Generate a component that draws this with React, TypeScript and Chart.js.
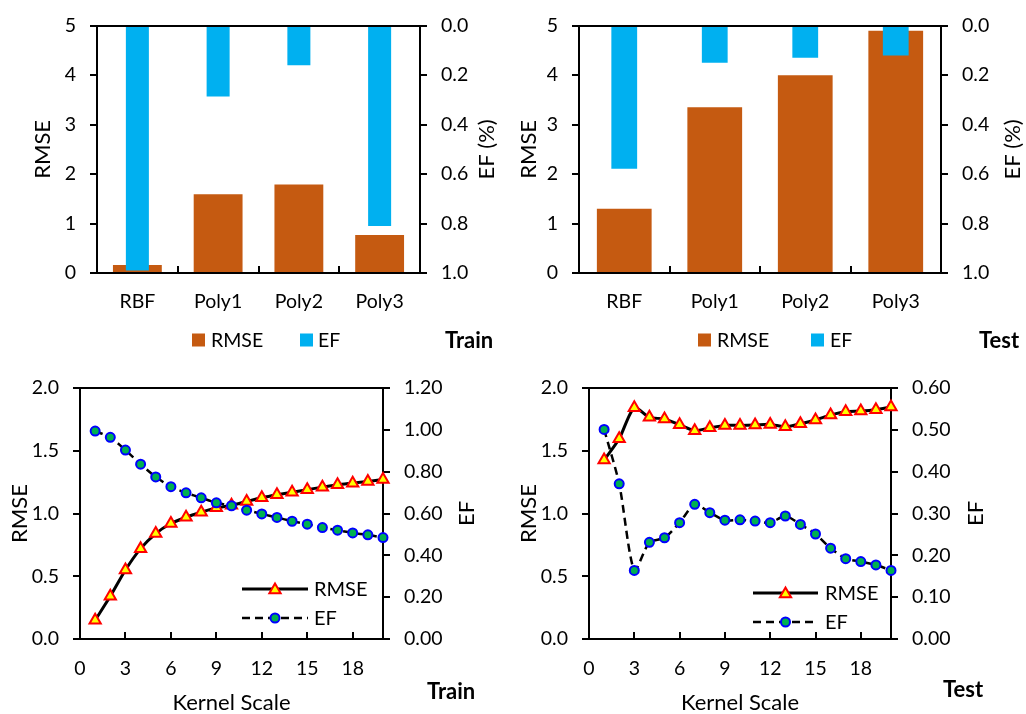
import React, { useEffect, useRef } from 'react';
import { Chart, registerables } from 'chart.js';

Chart.register(...registerables);

// ---------------- data ----------------
const models = ['RBF', 'Poly1', 'Poly2', 'Poly3'];
const trainBarRmse = [0.16, 1.59, 1.79, 0.77];
const trainBarEf = [0.99, 0.286, 0.16, 0.81];
const testBarRmse = [1.3, 3.35, 4.0, 4.9];
const testBarEf = [0.578, 0.15, 0.13, 0.12];

const kernelScale = [1, 2, 3, 4, 5, 6, 7, 8, 9, 10, 11, 12, 13, 14, 15, 16, 17, 18, 19, 20];
const kernelTicks = [0, 3, 6, 9, 12, 15, 18];
const trainRmse = [0.15, 0.34, 0.55, 0.72, 0.84, 0.92, 0.97, 1.01, 1.045, 1.066, 1.096, 1.125, 1.149, 1.17, 1.19, 1.21, 1.229, 1.242, 1.255, 1.271];
const trainEf = [0.994, 0.964, 0.903, 0.836, 0.775, 0.728, 0.699, 0.675, 0.651, 0.637, 0.616, 0.598, 0.581, 0.563, 0.549, 0.533, 0.52, 0.507, 0.498, 0.485];
const testRmse = [1.426, 1.596, 1.843, 1.766, 1.753, 1.707, 1.66, 1.683, 1.702, 1.702, 1.705, 1.71, 1.691, 1.715, 1.745, 1.785, 1.811, 1.816, 1.827, 1.848];
const testEf = [0.501, 0.371, 0.164, 0.231, 0.242, 0.278, 0.322, 0.302, 0.284, 0.285, 0.282, 0.278, 0.294, 0.274, 0.251, 0.217, 0.192, 0.185, 0.177, 0.164];

// ---------------- styles ----------------
const FONT = 'Lato, "Open Sans", sans-serif';
const BROWN = '#C55A11';
const BLUE = '#00B0F0';
const TICK_SIZE = 19.5;
const TITLE_SIZE = 22;

function drawTriangle(ctx: CanvasRenderingContext2D, x: number, y: number, r: number) {
  ctx.beginPath();
  let a = 0;
  ctx.moveTo(x + Math.sin(a) * r, y - Math.cos(a) * r);
  a += (2 * Math.PI) / 3;
  ctx.lineTo(x + Math.sin(a) * r, y - Math.cos(a) * r);
  a += (2 * Math.PI) / 3;
  ctx.lineTo(x + Math.sin(a) * r, y - Math.cos(a) * r);
  ctx.closePath();
  ctx.fillStyle = '#FFFF00';
  ctx.fill();
  ctx.strokeStyle = '#FF0000';
  ctx.lineWidth = 2;
  ctx.stroke();
}

function drawCircle(ctx: CanvasRenderingContext2D, x: number, y: number, r: number) {
  ctx.beginPath();
  ctx.arc(x, y, r, 0, Math.PI * 2);
  ctx.fillStyle = '#00B050';
  ctx.fill();
  ctx.strokeStyle = '#0000FF';
  ctx.lineWidth = 2;
  ctx.stroke();
}

type BoxItem = { x: number; tx: number; label: string; color: string };
type LineRow = { y: number; label: string; dash: number[]; marker: 'tri' | 'circ' };
type Decor = {
  frameOnTop: boolean;
  rtText: string;
  rtX: number;
  boxLegend?: { y: number; items: BoxItem[] };
  lineLegend?: { x1: number; x2: number; tx: number; rows: LineRow[] };
  tag: string;
  tagX: number;
  tagY: number;
};

function decorPlugin(d: Decor) {
  const frame = (chart: any) => {
    const ctx = chart.ctx as CanvasRenderingContext2D;
    const a = chart.chartArea;
    ctx.save();
    ctx.strokeStyle = '#000';
    ctx.lineWidth = 2;
    ctx.strokeRect(Math.round(a.left), Math.round(a.top), Math.round(a.right) - Math.round(a.left), Math.round(a.bottom) - Math.round(a.top));
    ctx.restore();
  };
  return {
    id: 'decor',
    beforeDatasetsDraw(chart: any) {
      if (!d.frameOnTop) frame(chart);
    },
    afterDatasetsDraw(chart: any) {
      if (d.frameOnTop) frame(chart);
    },
    afterDraw(chart: any) {
      const ctx = chart.ctx as CanvasRenderingContext2D;
      const a = chart.chartArea;
      // right axis title, reading bottom-to-top
      ctx.save();
      ctx.translate(d.rtX, (a.top + a.bottom) / 2);
      ctx.rotate(-Math.PI / 2);
      ctx.font = `${TITLE_SIZE}px ${FONT}`;
      ctx.fillStyle = '#000';
      ctx.textAlign = 'center';
      ctx.textBaseline = 'middle';
      ctx.fillText(d.rtText, 0, 0);
      ctx.restore();

      ctx.save();
      ctx.font = `${TICK_SIZE}px ${FONT}`;
      ctx.textBaseline = 'middle';
      ctx.textAlign = 'left';
      if (d.boxLegend) {
        const L = d.boxLegend;
        L.items.forEach((it) => {
          ctx.fillStyle = it.color;
          ctx.fillRect(it.x, L.y - 6.5, 13, 13);
          ctx.fillStyle = '#000';
          ctx.fillText(it.label, it.tx, L.y + 1);
        });
      }
      if (d.lineLegend) {
        const L = d.lineLegend;
        L.rows.forEach((r) => {
          ctx.save();
          ctx.strokeStyle = '#000';
          ctx.lineWidth = r.marker === 'tri' ? 3 : 2.5;
          ctx.setLineDash(r.dash);
          ctx.beginPath();
          ctx.moveTo(L.x1, r.y);
          ctx.lineTo(L.x2, r.y);
          ctx.stroke();
          ctx.restore();
          const cx = (L.x1 + L.x2) / 2;
          if (r.marker === 'tri') drawTriangle(ctx, cx, r.y + 1, 6.5);
          else drawCircle(ctx, cx, r.y, 4.5);
          ctx.fillStyle = '#000';
          ctx.font = `${TICK_SIZE + 0.5}px ${FONT}`;
          ctx.fillText(r.label, L.tx, r.y + 1);
        });
      }
      ctx.font = `bold ${TITLE_SIZE}px ${FONT}`;
      ctx.fillStyle = '#000';
      ctx.fillText(d.tag, d.tagX, d.tagY);
      ctx.restore();
    },
  };
}

type Layout = { top: number; yLW: number; yRW: number; xH: number; ltPad: number };

const tickFont = { family: FONT, size: TICK_SIZE };
const titleFont = { family: FONT, size: TITLE_SIZE };

function barConfig(rmse: number[], ef: number[], p: Layout, d: Decor): any {
  return {
    type: 'bar',
    data: {
      labels: models,
      datasets: [
        { label: 'RMSE', data: rmse, yAxisID: 'y', backgroundColor: BROWN, grouped: false, categoryPercentage: 1, barPercentage: 0.605, order: 1 },
        { label: 'EF', data: ef, yAxisID: 'y1', backgroundColor: BLUE, grouped: false, categoryPercentage: 1, barPercentage: 0.285, order: 0 },
      ],
    },
    options: {
      responsive: false,
      animation: false,
      events: [],
      layout: { padding: { top: p.top, left: 0, right: 0, bottom: 0 } },
      plugins: { legend: { display: false }, tooltip: { enabled: false } },
      scales: {
        x: {
          type: 'category',
          offset: true,
          grid: { offset: true, drawOnChartArea: false, drawTicks: true, tickLength: -7, color: '#000', lineWidth: 2 },
          border: { display: true, color: '#000', width: 2 },
          ticks: { padding: 24.3, color: '#000', font: tickFont, maxRotation: 0 },
          afterFit: (s: any) => { s.height = p.xH; },
        },
        y: {
          position: 'left',
          min: 0,
          max: 5,
          ticks: { stepSize: 1, padding: 14, color: '#000', font: tickFont },
          grid: { drawOnChartArea: false, tickLength: 7, color: '#000', lineWidth: 2 },
          border: { display: true, color: '#000', width: 2 },
          title: { display: true, text: 'RMSE', color: '#000', font: titleFont, padding: { top: p.ltPad, bottom: 0 } },
          afterFit: (s: any) => { s.width = p.yLW; },
        },
        y1: {
          position: 'right',
          min: 0,
          max: 1,
          reverse: true,
          ticks: { stepSize: 0.2, padding: 14, color: '#000', font: tickFont, callback: (v: any) => Number(v).toFixed(1) },
          grid: { drawOnChartArea: false, tickLength: 7, color: '#000', lineWidth: 2 },
          border: { display: true, color: '#000', width: 2 },
          afterFit: (s: any) => { s.width = p.yRW; },
        },
      },
    },
    plugins: [decorPlugin(d)],
  };
}

function lineConfig(rmse: number[], ef: number[], efMax: number, p: Layout, d: Decor): any {
  return {
    type: 'line',
    data: {
      datasets: [
        {
          label: 'RMSE',
          data: kernelScale.map((k, i) => ({ x: k, y: rmse[i] })),
          yAxisID: 'y',
          borderColor: '#000',
          borderWidth: 3,
          tension: 0.25,
          pointStyle: 'triangle',
          pointRadius: 6.5,
          pointBackgroundColor: '#FFFF00',
          pointBorderColor: '#FF0000',
          pointBorderWidth: 2,
          clip: false,
          order: 1,
        },
        {
          label: 'EF',
          data: kernelScale.map((k, i) => ({ x: k, y: ef[i] })),
          yAxisID: 'y1',
          borderColor: '#000',
          borderWidth: 2.5,
          borderDash: [8, 5],
          tension: 0.25,
          pointStyle: 'circle',
          pointRadius: 4.5,
          pointBackgroundColor: '#00B050',
          pointBorderColor: '#0000FF',
          pointBorderWidth: 2,
          clip: false,
          order: 0,
        },
      ],
    },
    options: {
      responsive: false,
      animation: false,
      events: [],
      layout: { padding: { top: p.top, left: 0, right: 0, bottom: 0 } },
      plugins: { legend: { display: false }, tooltip: { enabled: false } },
      scales: {
        x: {
          type: 'linear',
          min: 0,
          max: 20,
          afterBuildTicks: (s: any) => { s.ticks = kernelTicks.map((v) => ({ value: v })); },
          grid: { drawOnChartArea: false, drawTicks: true, tickLength: -7, color: '#000', lineWidth: 2 },
          border: { display: true, color: '#000', width: 2 },
          ticks: { padding: 24.6, color: '#000', font: tickFont, maxRotation: 0 },
          title: { display: true, text: 'Kernel Scale', color: '#000', font: { family: FONT, size: TITLE_SIZE, lineHeight: 1.0 }, padding: { top: 0, bottom: 0 } },
          afterFit: (s: any) => { s.height = p.xH; },
        },
        y: {
          position: 'left',
          min: 0,
          max: 2,
          ticks: { stepSize: 0.5, padding: 14, color: '#000', font: tickFont, callback: (v: any) => Number(v).toFixed(1) },
          grid: { drawOnChartArea: false, tickLength: 7, color: '#000', lineWidth: 2 },
          border: { display: true, color: '#000', width: 2 },
          title: { display: true, text: 'RMSE', color: '#000', font: titleFont, padding: { top: p.ltPad, bottom: 0 } },
          afterFit: (s: any) => { s.width = p.yLW; },
        },
        y1: {
          position: 'right',
          min: 0,
          max: efMax,
          ticks: { stepSize: efMax / 6, padding: 14, color: '#000', font: tickFont, callback: (v: any) => Number(v).toFixed(2) },
          grid: { drawOnChartArea: false, tickLength: 7, color: '#000', lineWidth: 2 },
          border: { display: true, color: '#000', width: 2 },
          afterFit: (s: any) => { s.width = p.yRW; },
        },
      },
    },
    plugins: [decorPlugin(d)],
  };
}

function ChartBox({ make, left, top, width, height }: { make: () => any; left: number; top: number; width: number; height: number }) {
  const ref = useRef<HTMLCanvasElement>(null);
  useEffect(() => {
    const chart = new Chart(ref.current as HTMLCanvasElement, make());
    return () => chart.destroy();
  }, []);
  return (
    <canvas
      ref={ref}
      width={width}
      height={height}
      style={{ position: 'absolute', left, top, width, height, display: 'block' }}
    />
  );
}

export default function App() {
  const makeTrainBar = () =>
    barConfig(trainBarRmse, trainBarEf, { top: 25, yLW: 97, yRW: 93, xH: 87, ltPad: 29.8 }, {
      frameOnTop: true,
      rtText: 'EF (%)',
      rtX: 487,
      boxLegend: {
        y: 340,
        items: [
          { x: 192, tx: 211, label: 'RMSE', color: BROWN },
          { x: 300, tx: 318, label: 'EF', color: BLUE },
        ],
      },
      tag: 'Train',
      tagX: 445,
      tagY: 341,
    });
  const makeTestBar = () =>
    barConfig(testBarRmse, testBarEf, { top: 25, yLW: 66, yRW: 85, xH: 87, ltPad: 2.8 }, {
      frameOnTop: true,
      rtText: 'EF (%)',
      rtX: 500,
      boxLegend: {
        y: 340,
        items: [
          { x: 185, tx: 204, label: 'RMSE', color: BROWN },
          { x: 298, tx: 317, label: 'EF', color: BLUE },
        ],
      },
      tag: 'Test',
      tagX: 466,
      tagY: 341,
    });
  const makeTrainLine = () =>
    lineConfig(trainRmse, trainEf, 1.2, { top: 28, yLW: 80, yRW: 130, xH: 75, ltPad: 6.8 }, {
      frameOnTop: false,
      rtText: 'EF',
      rtX: 467,
      lineLegend: {
        x1: 242,
        x2: 308,
        tx: 314,
        rows: [
          { y: 229, label: 'RMSE', dash: [], marker: 'tri' },
          { y: 258, label: 'EF', dash: [8, 5], marker: 'circ' },
        ],
      },
      tag: 'Train',
      tagX: 427,
      tagY: 332,
    });
  const makeTestLine = () =>
    lineConfig(testRmse, testEf, 0.6, { top: 28, yLW: 76, yRW: 135, xH: 75, ltPad: 2.8 }, {
      frameOnTop: false,
      rtText: 'EF',
      rtX: 463,
      lineLegend: {
        x1: 240,
        x2: 305,
        tx: 312,
        rows: [
          { y: 233, label: 'RMSE', dash: [], marker: 'tri' },
          { y: 262, label: 'EF', dash: [8, 5], marker: 'circ' },
        ],
      },
      tag: 'Test',
      tagX: 430,
      tagY: 330,
    });

  return (
    <div style={{ position: 'absolute', left: 0, top: 0, width: 1026, height: 714, background: '#fff', overflow: 'hidden' }}>
      <ChartBox make={makeTrainBar} left={0} top={0} width={513} height={360} />
      <ChartBox make={makeTestBar} left={513} top={0} width={513} height={360} />
      <ChartBox make={makeTrainLine} left={0} top={360} width={513} height={354} />
      <ChartBox make={makeTestLine} left={513} top={360} width={513} height={354} />
    </div>
  );
}
